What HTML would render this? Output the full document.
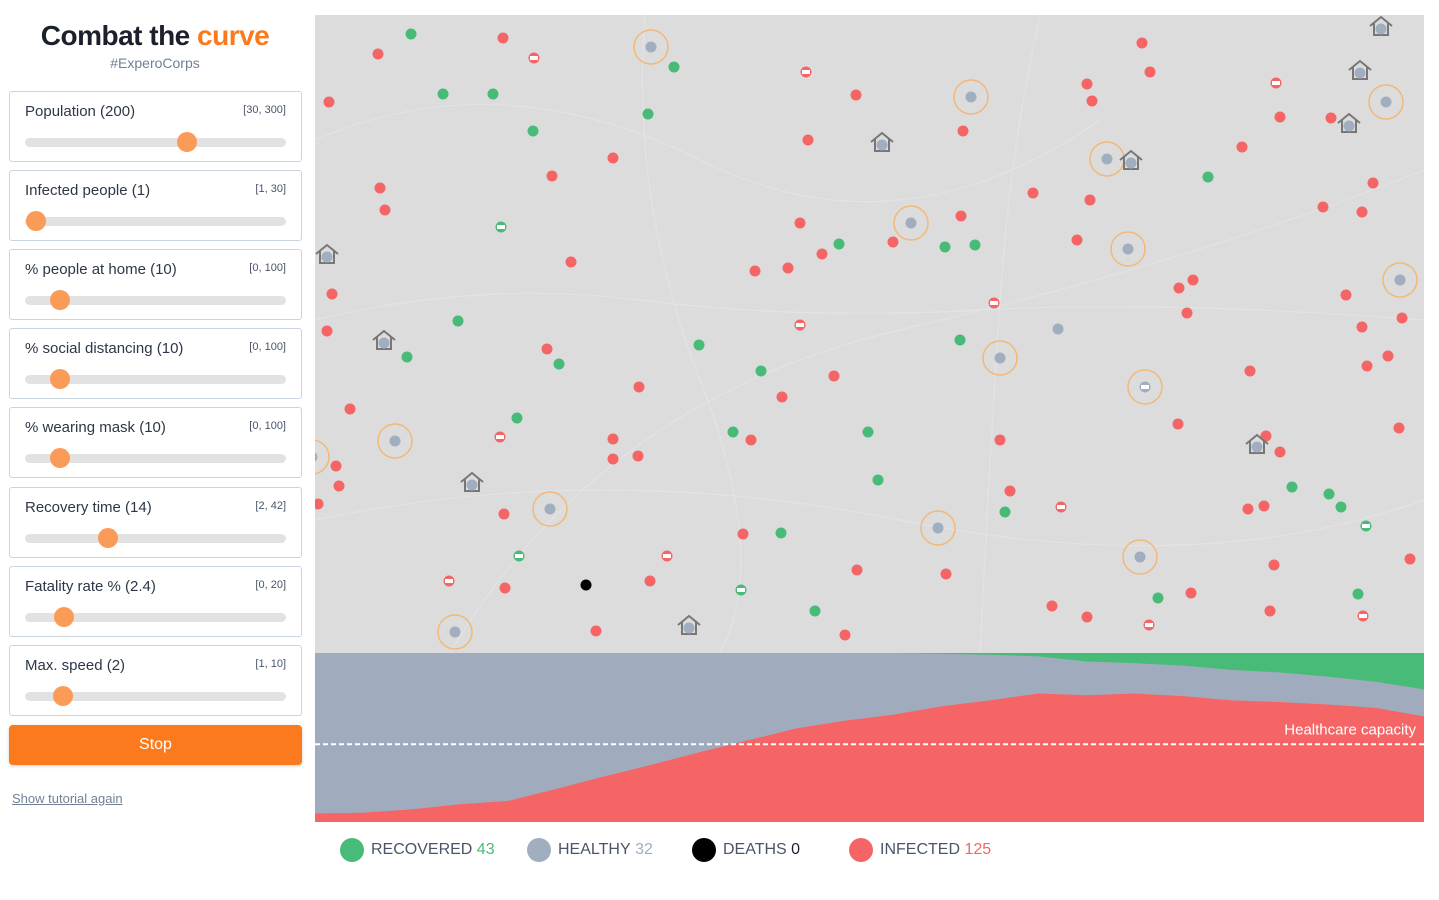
<!DOCTYPE html>
<html><head><meta charset="utf-8">
<style>
body{margin:0;width:1439px;height:900px;background:#fff;font-family:"Liberation Sans",sans-serif;position:relative;overflow:hidden}
.title{position:absolute;left:0;width:310px;top:20px;text-align:center;font-size:28px;font-weight:bold;color:#1a202c;letter-spacing:-0.5px}
.title span{color:#fb7a1d}
.sub{position:absolute;left:0;width:310px;top:55px;text-align:center;font-size:14px;color:#718096}
.card{position:absolute;left:9px;width:293px;height:71px;border:1px solid #cbd5e0;border-radius:3px;box-sizing:border-box;background:#fff}
.card .lbl{position:absolute;left:15px;top:11px;font-size:15px;color:#2d3748}
.card .rng{position:absolute;right:15px;top:12px;font-size:11px;color:#4a5568}
.card .track{position:absolute;left:15px;right:15px;top:46px;height:9px;border-radius:5px;background:#e2e2e2}
.card .thumb{position:absolute;top:40px;width:20px;height:20px;border-radius:50%;background:#fb9b58;margin-left:-10px}
.stop{position:absolute;left:9px;top:725px;width:293px;height:40px;border-radius:4px;background:#fb7a1d;color:#fff;font-size:16px;text-align:center;line-height:40px;box-shadow:0 1px 3px rgba(0,0,0,.2)}
.tut{position:absolute;left:12px;top:791px;font-size:13px;color:#718096;text-decoration:underline}
.leg{position:absolute;top:838px;font-size:16px;color:#4a5568;display:flex;align-items:center}
.leg i{display:inline-block;width:24px;height:24px;border-radius:50%;margin-right:7px}
</style></head><body>
<div class="title">Combat the <span>curve</span></div>
<div class="sub">#ExperoCorps</div>

<div class="card" style="top:91px"><div class="lbl">Population (200)</div><div class="rng">[30, 300]</div><div class="track"></div><div class="thumb" style="left:177px"></div></div>
<div class="card" style="top:170px"><div class="lbl">Infected people (1)</div><div class="rng">[1, 30]</div><div class="track"></div><div class="thumb" style="left:26px"></div></div>
<div class="card" style="top:249px"><div class="lbl">% people at home (10)</div><div class="rng">[0, 100]</div><div class="track"></div><div class="thumb" style="left:50px"></div></div>
<div class="card" style="top:328px"><div class="lbl">% social distancing (10)</div><div class="rng">[0, 100]</div><div class="track"></div><div class="thumb" style="left:50px"></div></div>
<div class="card" style="top:407px"><div class="lbl">% wearing mask (10)</div><div class="rng">[0, 100]</div><div class="track"></div><div class="thumb" style="left:50px"></div></div>
<div class="card" style="top:487px"><div class="lbl">Recovery time (14)</div><div class="rng">[2, 42]</div><div class="track"></div><div class="thumb" style="left:98px"></div></div>
<div class="card" style="top:566px"><div class="lbl">Fatality rate % (2.4)</div><div class="rng">[0, 20]</div><div class="track"></div><div class="thumb" style="left:54px"></div></div>
<div class="card" style="top:645px"><div class="lbl">Max. speed (2)</div><div class="rng">[1, 10]</div><div class="track"></div><div class="thumb" style="left:53px"></div></div>
<div class="stop">Stop</div>
<div class="tut">Show tutorial again</div>

<svg id="viz" width="1439" height="900" style="position:absolute;left:0;top:0">
<defs><clipPath id="mapclip"><rect x="315" y="15" width="1109" height="638"/></clipPath></defs>
<rect x="315" y="15" width="1109" height="638" fill="#dcdcdc"/>
<g stroke="#e6e6e6" stroke-width="1.2" fill="none" opacity="0.7" clip-path="url(#mapclip)">
<path d="M315 320 Q480 280 640 300 T980 310 T1424 320"/><path d="M645 15 Q630 200 700 380 T720 653"/><path d="M1040 15 Q1010 150 1000 300 T980 653"/><path d="M315 140 Q500 60 700 160 T1100 120"/><path d="M315 520 Q600 460 900 520 T1424 500"/><path d="M450 653 Q600 400 900 330 T1424 170"/>
</g>
<g id="dots" clip-path="url(#mapclip)"></g>
<g id="area"></g>
</svg>
<script>
const NS='http://www.w3.org/2000/svg';
function mk(tag,attrs,parent){const e=document.createElementNS(NS,tag);for(const k in attrs)e.setAttribute(k,attrs[k]);parent.appendChild(e);return e;}
const greenPeople=[[411,34],[674,67],[443,94],[493,94],[533,131],[648,114],[1208,177],[839,244],[945,247],[975,245],[458,321],[407,357],[559,364],[699,345],[960,340],[761,371],[517,418],[733,432],[868,432],[878,480],[1005,512],[1292,487],[1329,494],[1341,507],[781,533],[815,611],[1158,598],[1358,594]];
const redPeople=[[378,54],[503,38],[329,102],[856,95],[808,140],[963,131],[1087,84],[1092,101],[1142,43],[1150,72],[1280,117],[1331,118],[1242,147],[613,158],[552,176],[380,188],[385,210],[1033,193],[1090,200],[1373,183],[1323,207],[1362,212],[800,223],[961,216],[893,242],[822,254],[788,268],[755,271],[1077,240],[571,262],[332,294],[327,331],[1179,288],[1193,280],[1187,313],[1346,295],[1362,327],[1402,318],[1388,356],[1367,366],[547,349],[834,376],[639,387],[782,397],[350,409],[751,440],[613,439],[613,459],[638,456],[1000,440],[1178,424],[1250,371],[1266,436],[1280,452],[1399,428],[336,466],[339,486],[318,504],[1010,491],[504,514],[1248,509],[1264,506],[743,534],[857,570],[946,574],[650,581],[505,588],[1274,565],[1410,559],[1191,593],[1052,606],[1087,617],[1270,611],[596,631],[845,635]];
const redMasked=[[534,58],[806,72],[1276,83],[994,303],[800,325],[500,437],[667,556],[449,581],[1061,507],[1149,625],[1363,616]];
const greenMasked=[[501,227],[519,556],[741,590],[1366,526]];
const healthyRinged=[[651,47],[971,97],[1107,159],[1386,102],[911,223],[1128,249],[1400,280],[1000,358],[395,441],[550,509],[938,528],[1140,557],[455,632],[312,457]];
const healthyMaskedRinged=[[1145,387]];
const healthyPlain=[[1058,329]];
const deadPeople=[[586,585]];
const housePeople=[[1381,27],[1360,71],[1349,124],[882,143],[1131,161],[327,255],[384,341],[1257,445],[472,483],[689,626]];
const dots=document.getElementById('dots');
function dot(p,color,name){const c=mk('circle',{cx:p[0],cy:p[1],r:5.5,fill:color},dots);

}
function mask(p){mk('rect',{x:p[0]-4,y:p[1]-2,width:8,height:4,fill:'#fff'},dots);}
function ring(p){const c=mk('circle',{cx:p[0],cy:p[1],r:17,fill:'none',stroke:'#f2b877','stroke-width':1.5},dots);

}
healthyRinged.forEach(p=>{ring(p);dot(p,'#a0aec0','healthy-person');});
healthyMaskedRinged.forEach(p=>{ring(p);dot(p,'#a0aec0','healthy-masked-person');mask(p);});
healthyPlain.forEach(p=>dot(p,'#a0aec0','healthy-person'));
greenPeople.forEach(p=>dot(p,'#48bb78','recovered-person'));
redPeople.forEach(p=>dot(p,'#f56565','infected-person'));
redMasked.forEach(p=>{dot(p,'#f56565','infected-masked-person');mask(p);});
greenMasked.forEach(p=>{dot(p,'#48bb78','recovered-masked-person');mask(p);});
deadPeople.forEach(p=>dot(p,'#000','dead-person'));
housePeople.forEach(p=>{const g=mk('g',{},dots);


mk('path',{d:`M${p[0]-11} ${p[1]-1} L${p[0]} ${p[1]-10} L${p[0]+11} ${p[1]-1} M${p[0]-7} ${p[1]-4} V${p[1]+8} H${p[0]+7} V${p[1]-4}`,fill:'none',stroke:'#777','stroke-width':2},g);
mk('circle',{cx:p[0],cy:p[1]+2,r:5.5,fill:'#a0aec0'},g);});

const totalPop=200;
const infectedSeries=[10,11,15,21,25,39,54,68,83,97,111,120,127,137,144,152,150,152,149,144,142,139,135,125];
const recoveredSeries=[0,0,0,0,0,0,0,0,0,0,0,0,0,1,2,4,10,12,15,20,23,28,34,43];
const healthcareCapacity=92;
const X0=315,X1=1424,Y0=653,Y1=822;
const xs=i=>X0+(X1-X0)*i/(infectedSeries.length-1);
const ys=v=>Y1-(Y1-Y0)*v/totalPop;
const area=document.getElementById('area');
const h=mk('rect',{x:X0,y:Y0,width:X1-X0,height:Y1-Y0,fill:'#a0acbd'},area);


function pathFrom(top,bottom){let d='';top.forEach((v,i)=>{d+=(i?'L':'M')+xs(i)+' '+ys(v)+' ';});for(let i=bottom.length-1;i>=0;i--)d+='L'+xs(i)+' '+ys(bottom[i])+' ';return d+'Z';}
const inf=mk('path',{d:pathFrom(infectedSeries,infectedSeries.map(()=>0)),fill:'#f56565'},area);


const rec=mk('path',{d:pathFrom(recoveredSeries.map(()=>totalPop),recoveredSeries.map(v=>totalPop-v)),fill:'#48bb78'},area);


const cap=mk('line',{x1:X0,x2:X1,y1:ys(healthcareCapacity),y2:ys(healthcareCapacity),stroke:'#fff','stroke-width':2,'stroke-dasharray':'5,3'},area);


const ct=mk('text',{x:X1-8,y:ys(healthcareCapacity)-10,'text-anchor':'end',fill:'#fff','font-size':15,'font-family':'Liberation Sans, sans-serif'},area);
ct.textContent='Healthcare capacity';



const legendLabels=['RECOVERED','HEALTHY','DEATHS','INFECTED'];
const legendValues=[43,32,0,125];
const legendColors=['#48bb78','#a0aec0','#000','#f56565'];
const legendValueColors=['#48bb78','#a0aec0','#1a202c','#f56565'];
const legendX=[340,527,692,849];
legendLabels.forEach((l,i)=>{const d=document.createElement('div');d.className='leg';d.style.left=legendX[i]+'px';


d.innerHTML=`<i style="background:${legendColors[i]}"></i>${l}&nbsp;<span style="color:${legendValueColors[i]}">${legendValues[i]}</span>`;document.body.appendChild(d);});
</script>
</body></html>
